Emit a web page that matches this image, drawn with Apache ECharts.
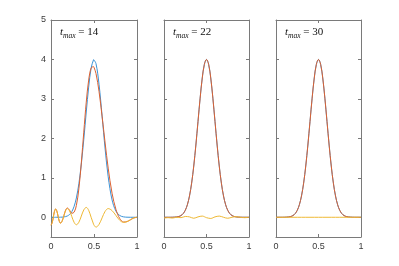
<!DOCTYPE html>
<html>
<head>
<meta charset="utf-8">
<script src="https://cdn.jsdelivr.net/npm/echarts@6/dist/echarts.min.js"></script>
<style>html,body{margin:0;padding:0;background:#fff;}#c{width:399px;height:266px;}</style>
</head>
<body>
<div id="c"></div>
<script>
// ---- data ----
const panelTitles = ['14', '22', '30'];
const xTicks = [0, 0.5, 1];
const yTicks = [0, 1, 2, 3, 4, 5];

// panel 1 (t_max = 14)
const p1X = [0,0.0135,0.027,0.0405,0.054,0.068,0.082,0.096,0.11,0.13,0.15,0.17,0.19,0.216,0.2425,0.269,0.295,0.324,0.3525,0.381,0.41,0.438,0.4665,0.495,0.5,0.523,0.5585,0.594,0.6295,0.665,0.71,0.755,0.80,0.845,0.884,0.9225,0.961,1.0];
const p1Exact = [0,0,0,0,0,0,0,0,0.002,0.004,0.009,0.017,0.033,0.071,0.145,0.278,0.489,0.85,1.348,1.970,2.668,3.300,3.782,3.995,4.0,3.896,3.371,2.572,1.730,1.026,0.441,0.155,0.044,0.010,0.002,0,0,0];
const p1Approx = [-0.20,-0.14,0.005,0.15,0.21,0.157,0.03,-0.097,-0.148,-0.092,0.044,0.183,0.235,0.18,0.10,0.13,0.299,0.724,1.378,2.156,2.918,3.477,3.782,3.818,3.80,3.646,3.19,2.557,1.881,1.246,0.61,0.20,-0.035,-0.12,-0.109,-0.065,-0.019,0];
const p1Err = [-0.20,-0.14,0.005,0.15,0.21,0.157,0.03,-0.097,-0.15,-0.096,0.035,0.166,0.22,0.16,0.015,-0.13,-0.19,-0.126,0.03,0.186,0.25,0.177,0,-0.177,-0.20,-0.25,-0.181,-0.015,0.151,0.22,0.169,0.045,-0.079,-0.13,-0.111,-0.065,-0.019,0];

// panels 2 and 3 (t_max = 22, 30)
const pX = [0,0.025,0.05,0.075,0.1,0.125,0.15,0.175,0.2,0.225,0.25,0.275,0.3,0.325,0.35,0.375,0.4,0.425,0.45,0.475,0.5,0.525,0.55,0.575,0.6,0.625,0.65,0.675,0.7,0.725,0.75,0.775,0.8,0.825,0.85,0.875,0.9,0.925,0.95,0.975,1.0];
const pExact = [0,0,0,0,0.001,0.004,0.009,0.020,0.044,0.091,0.176,0.318,0.541,0.865,1.299,1.831,2.426,3.019,3.530,3.877,4.0,3.877,3.530,3.019,2.426,1.831,1.299,0.865,0.541,0.318,0.176,0.091,0.044,0.020,0.009,0.004,0.001,0,0,0,0];
const p2Approx = pExact.slice();
const p3Approx = pExact.slice();
const errX = [0,0.05,0.1,0.15,0.2,0.25,0.3,0.35,0.4,0.45,0.5,0.55,0.6,0.65,0.7,0.75,0.8,0.85,0.9,0.95,1.0];
const p2Err = [-0.02,-0.01,-0.02,0.0,-0.01,0.02,0.01,-0.025,0.01,0.03,-0.01,-0.03,0.01,0.03,0.0,-0.025,0.0,0.015,0.0,-0.01,0];
const p3Err = [0,0,0,0,0,0,0,0,0,0,0,0,0,0,0,0,0,0,0,0,0];

// ---- chart ----
const pairs = (xs, ys) => xs.map((x, i) => [x, ys[i]]);
const panels = [
  {left: 51, width: 86, exact: [p1X, p1Exact], approx: [p1X, p1Approx], err: [p1X, p1Err], tl: 60},
  {left: 164, width: 85, exact: [pX, pExact], approx: [pX, p2Approx], err: [errX, p2Err], tl: 173},
  {left: 276, width: 85, exact: [pX, pExact], approx: [pX, p3Approx], err: [errX, p3Err], tl: 285}
];
const C_BLUE = '#3a93d8', C_RED = '#dc6131', C_YEL = '#efb934';
const AX = '#7a7a7a';
const lab = {fontFamily: 'Liberation Sans, Arial, sans-serif', fontSize: 9, color: '#3a3a3a'};
const SERIF = 'Liberation Serif, Times New Roman, serif';

const grid = [], xAxis = [], yAxis = [], series = [], title = [];
panels.forEach((p, k) => {
  grid.push({left: p.left, width: p.width, top: 20, height: 217, containLabel: false});
  const baseX = {
    type: 'value', min: 0, max: 1, gridIndex: k, splitLine: {show: false},
    axisLine: {show: true, onZero: false, lineStyle: {color: AX, width: 1}},
    axisTick: {show: true, inside: true, length: 3, customValues: xTicks, lineStyle: {color: AX}},
  };
  xAxis.push(Object.assign({}, baseX, {position: 'bottom',
    axisLabel: Object.assign({show: true, margin: 5, customValues: xTicks, formatter: v => String(v)}, lab)}));
  xAxis.push(Object.assign({}, baseX, {position: 'top', axisLabel: {show: false}}));
  const baseY = {
    type: 'value', min: -0.5, max: 5, gridIndex: k, splitLine: {show: false},
    axisLine: {show: true, onZero: false, lineStyle: {color: AX, width: 1}},
    axisTick: {show: true, inside: true, length: 3, customValues: yTicks, lineStyle: {color: AX}},
  };
  yAxis.push(Object.assign({}, baseY, {position: 'left',
    axisLabel: Object.assign({show: k === 0, margin: 5, customValues: yTicks, formatter: v => String(v)}, lab)}));
  yAxis.push(Object.assign({}, baseY, {position: 'right', axisLabel: {show: false}}));
  const xi = 2 * k, yi = 2 * k;
  const mk = (d, c, z) => ({type: 'line', xAxisIndex: xi, yAxisIndex: yi, data: pairs(d[0], d[1]),
    smooth: 0.35, symbol: 'none', lineStyle: {color: c, width: 1}, z: z, silent: true});
  series.push(mk(p.exact, C_BLUE, 2));
  series.push(mk(p.approx, C_RED, 3));
  series.push(mk(p.err, C_YEL, 4));
  title.push({
    left: p.tl, top: 24, padding: 0,
    text: '{t|t}{s|max}{n| = ' + panelTitles[k] + '}',
    textStyle: {
      fontWeight: 'normal',
      rich: {
        t: {fontFamily: SERIF, fontStyle: 'italic', fontWeight: 'normal', fontSize: 11, color: '#111', lineHeight: 16, verticalAlign: 'middle'},
        s: {fontFamily: SERIF, fontStyle: 'italic', fontWeight: 'normal', fontSize: 7.5, color: '#111', lineHeight: 10, verticalAlign: 'bottom'},
        n: {fontFamily: SERIF, fontWeight: 'normal', fontSize: 11, color: '#111', lineHeight: 16, verticalAlign: 'middle'}
      }
    }
  });
});

const chart = echarts.init(document.getElementById('c'), null, {renderer: 'canvas'});
chart.setOption({animation: false, backgroundColor: '#fff', title, grid, xAxis, yAxis, series});
</script>
</body>
</html>
